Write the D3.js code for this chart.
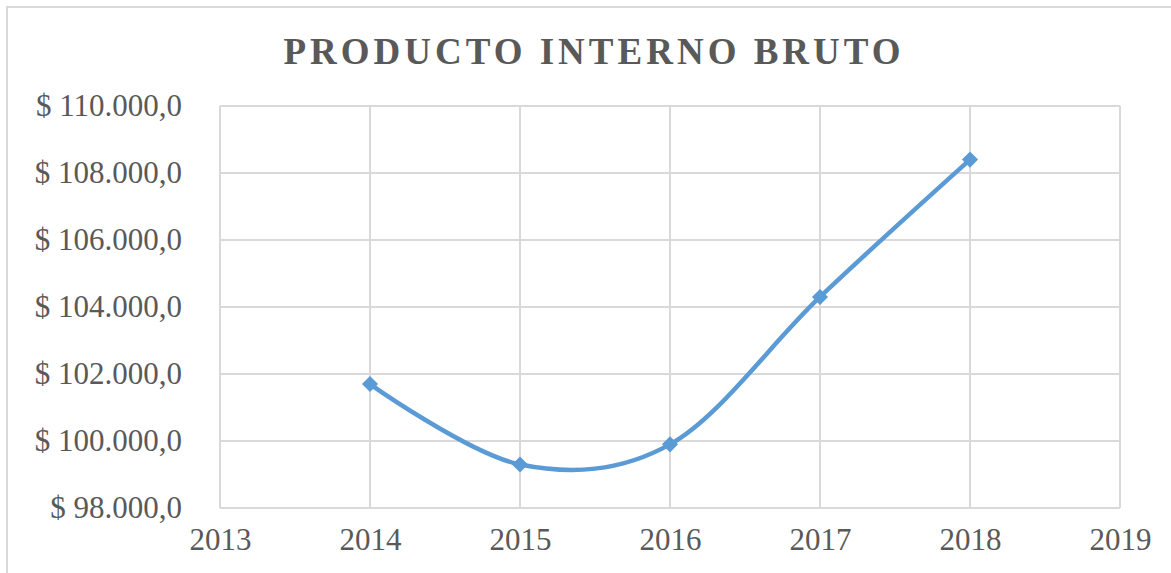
<!DOCTYPE html>
<html>
<head>
<meta charset="utf-8">
<script src="https://cdn.jsdelivr.net/npm/d3@7"></script>
<style>
  body { margin: 0; background: #fff; }
  text { font-family: "Liberation Serif", "Times New Roman", serif; fill: #595959; }
</style>
</head>
<body>
<div id="chart"></div>
<script>
// chart data
const years = [2014, 2015, 2016, 2017, 2018];
const pib = [101700, 99300, 99900, 104300, 108400];
const xTicks = [2013, 2014, 2015, 2016, 2017, 2018, 2019];
const yTicks = [98000, 100000, 102000, 104000, 106000, 108000, 110000];
const title = "PRODUCTO INTERNO BRUTO";

const width = 1171, height = 573;
const margin = {top: 106, right: 51, bottom: 65, left: 220};

const svg = d3.select("#chart").append("svg")
    .attr("width", width)
    .attr("height", height);

// outer chart frame (runs off right/bottom like the source)
svg.append("rect")
    .attr("x", 7).attr("y", 7)
    .attr("width", 1300).attr("height", 700)
    .attr("fill", "none")
    .attr("stroke", "#d9d9d9")
    .attr("stroke-width", 2);

var x = d3.scaleLinear()
    .domain([2013, 2019])
    .range([margin.left, width - margin.right]);

var y = d3.scaleLinear()
    .domain([98000, 110000])
    .range([height - margin.bottom, margin.top]);

// number format like "$ 110.000,0"
const fmt = d3.formatLocale({decimal: ",", thousands: ".", grouping: [3], currency: ["$ ", ""]}).format("$,.1f");

//Gridlines
svg.append("g")
    .selectAll("line.h")
    .data(yTicks)
    .join("line")
    .attr("x1", x(2013)).attr("x2", x(2019))
    .attr("y1", d => y(d)).attr("y2", d => y(d))
    .attr("stroke", "#d9d9d9")
    .attr("stroke-width", 2);

svg.append("g")
    .selectAll("line.v")
    .data(xTicks)
    .join("line")
    .attr("x1", d => x(d)).attr("x2", d => x(d))
    .attr("y1", y(98000)).attr("y2", y(110000))
    .attr("stroke", "#d9d9d9")
    .attr("stroke-width", 2);

//Left axis (labels only)
var axisLeft = d3.axisLeft(y)
    .tickValues(yTicks)
    .tickFormat(fmt)
    .tickSize(0)
    .tickPadding(38);
var gl = svg.append("g")
    .attr("transform", "translate(" + margin.left + ",0)")
    .call(axisLeft);
gl.select(".domain").remove();
gl.selectAll("text")
    .attr("font-size", 31)
    .attr("font-family", null)
    .attr("fill", "#595959");

//Bottom axis (labels only)
var axisBottom = d3.axisBottom(x)
    .tickValues(xTicks)
    .tickFormat(d3.format("d"))
    .tickSize(0)
    .tickPadding(20);
var gb = svg.append("g")
    .attr("transform", "translate(0," + y(98000) + ")")
    .call(axisBottom);
gb.select(".domain").remove();
gb.selectAll("text")
    .attr("font-size", 31)
    .attr("font-family", null)
    .attr("fill", "#595959");

//Title
svg.append("text")
    .attr("x", (margin.left + width - margin.right) / 2 - 76)
    .attr("y", 64)
    .attr("text-anchor", "middle")
    .attr("font-size", 37)
    .attr("font-weight", "bold")
    .attr("letter-spacing", 4)
    .text(title);

//Smoothed series line
var data = years.map((d, i) => ({year: d, value: pib[i]}));
var line = d3.line()
    .x(d => x(d.year))
    .y(d => y(d.value))
    .curve(d3.curveCardinal.tension(0));

svg.append("path")
    .datum(data)
    .attr("d", line)
    .attr("fill", "none")
    .attr("stroke", "#5b9bd5")
    .attr("stroke-width", 4.5)
    .attr("stroke-linecap", "round");

//Diamond markers
svg.append("g")
    .selectAll("path")
    .data(data)
    .join("path")
    .attr("transform", d => "translate(" + x(d.year) + "," + y(d.value) + ") rotate(45)")
    .attr("d", d3.symbol(d3.symbolSquare, 130))
    .attr("fill", "#5b9bd5");
</script>
</body>
</html>
